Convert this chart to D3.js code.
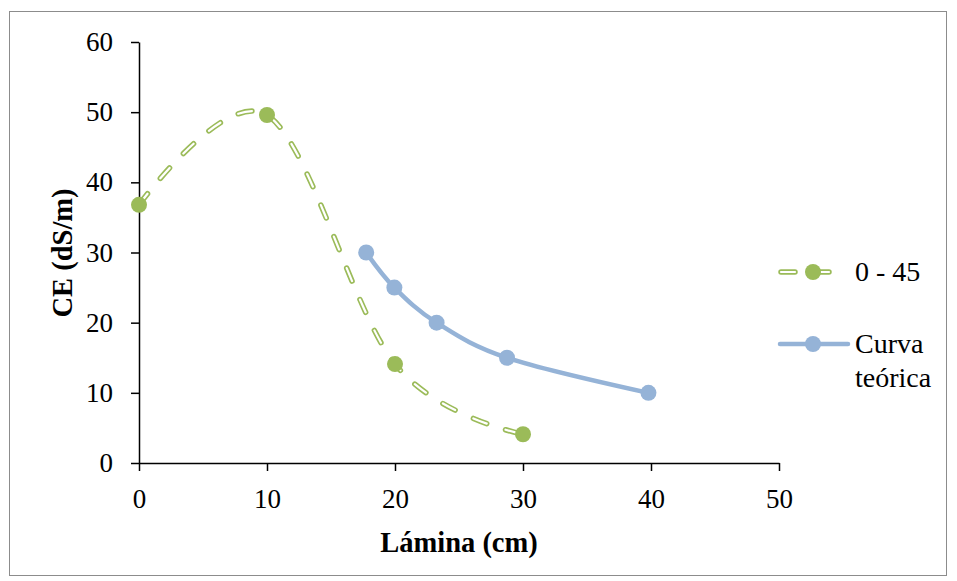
<!DOCTYPE html>
<html><head><meta charset="utf-8">
<script src="https://cdn.jsdelivr.net/npm/d3@7"></script>
<style>body{margin:0;background:#fff}svg text{font-family:"Liberation Serif","Times New Roman",serif}</style>
</head><body>
<svg id="c" width="957" height="581"></svg>
<script>
const greenX = [0, 10, 20, 30];
const greenY = [36.8, 49.6, 14.1, 4.1];
const blueX = [17.75, 19.95, 23.25, 28.75, 39.8];
const blueY = [30, 25, 20, 15, 10];
const xTicks = [0, 10, 20, 30, 40, 50];
const yTicks = [0, 10, 20, 30, 40, 50, 60];
const seriesNames = ["0 - 45", "Curva", "teórica"];

const FONT = '"Liberation Serif","Times New Roman",serif';
const svg = d3.select("#c");
svg.append("rect").attr("x", 9.5).attr("y", 11.5).attr("width", 937).attr("height", 564)
  .attr("fill", "#fff").attr("stroke", "#8c8c8c").attr("stroke-width", 1);

const x = d3.scaleLinear().domain([0, 50]).range([139, 779]);
const y = d3.scaleLinear().domain([0, 60]).range([463, 42]);

const green = "#9BBB59", blue = "#95B3D7";

const xa = svg.append("g").attr("transform", `translate(0,${y(0)})`)
  .call(d3.axisBottom(x).tickValues(xTicks).tickSize(8).tickSizeOuter(0).tickPadding(18));
const ya = svg.append("g").attr("transform", `translate(${x(0)},0)`)
  .call(d3.axisLeft(y).tickValues(yTicks).tickSize(8).tickSizeOuter(0).tickPadding(18));
[xa, ya].forEach(a => {
  a.attr("font-family", null).attr("font-size", null);
  a.selectAll("path,line").attr("stroke", "#000").attr("stroke-width", 1.5);
  a.selectAll("text").attr("font-size", 27).attr("fill", "#000").style("font-family", FONT);
});

svg.append("text").attr("x", 459).attr("y", 552).attr("text-anchor", "middle")
  .attr("font-size", 28.5).attr("font-weight", "bold").text("Lámina (cm)");
svg.append("text").attr("transform", "translate(72,253) rotate(-90)").attr("text-anchor", "middle")
  .attr("font-size", 28.5).attr("font-weight", "bold").text("CE (dS/m)");

const line = d3.line().x(d => x(d[0])).y(d => y(d[1])).curve(d3.curveCatmullRom.alpha(0));
const gData = greenX.map((v, i) => [v, greenY[i]]);
const bData = blueX.map((v, i) => [v, blueY[i]]);

function dashed(g, d) {
  g.append("path").attr("d", d).attr("fill", "none").attr("stroke", green).attr("stroke-width", 5.5)
    .attr("stroke-dasharray", "14,20").attr("stroke-linecap", "round");
  g.append("path").attr("d", d).attr("fill", "none").attr("stroke", "#fff").attr("stroke-width", 2.2)
    .attr("stroke-dasharray", "14,20").attr("stroke-linecap", "round");
}
dashed(svg.append("g"), line(gData));
svg.append("g").selectAll("circle").data(gData).join("circle")
  .attr("cx", d => x(d[0])).attr("cy", d => y(d[1])).attr("r", 8).attr("fill", green);

svg.append("path").attr("d", line(bData)).attr("fill", "none").attr("stroke", blue)
  .attr("stroke-width", 4.5).attr("stroke-linecap", "round");
svg.append("g").selectAll("circle").data(bData).join("circle")
  .attr("cx", d => x(d[0])).attr("cy", d => y(d[1])).attr("r", 8).attr("fill", blue);

// legend
const lg = svg.append("g");
dashed(lg, "M781,272 L833,272");
lg.append("circle").attr("cx", 813).attr("cy", 272).attr("r", 8).attr("fill", green);
lg.append("text").attr("x", 855).attr("y", 281).attr("font-size", 28).text(seriesNames[0]);
lg.append("path").attr("d", "M780,344 L848,344").attr("stroke", blue).attr("stroke-width", 4.5).attr("stroke-linecap", "round");
lg.append("circle").attr("cx", 813).attr("cy", 344).attr("r", 8).attr("fill", blue);
const t2 = lg.append("text").attr("x", 855).attr("y", 353).attr("font-size", 28);
t2.append("tspan").attr("x", 855).text(seriesNames[1]);
t2.append("tspan").attr("x", 855).attr("dy", 34).text(seriesNames[2]);
</script>
</body></html>
